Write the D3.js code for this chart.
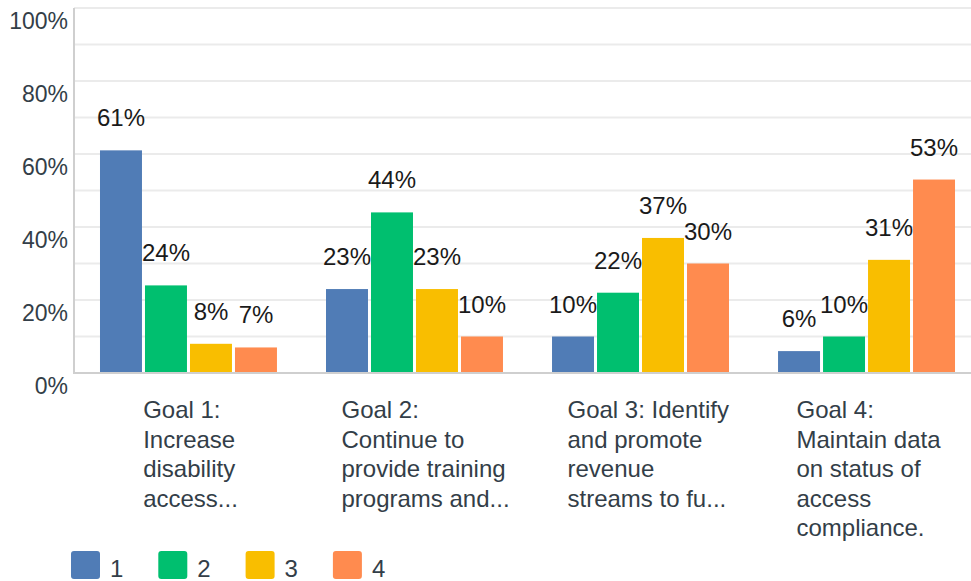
<!DOCTYPE html>
<html lang="en">
<head>
    <meta charset="UTF-8">
    <title>Goals</title>
    <script src="https://d3js.org/d3.v7.min.js"></script>
    <style>
        body {
            margin: 0;
            background: #fff;
        }
        svg text {
            font-family: "Liberation Sans", Arial, sans-serif;
        }
        .grid line {
            stroke: #ebebeb;
            stroke-width: 2px;
        }
        .tick-label {
            fill: #333e48;
            font-size: 23px;
        }
        .cat-label, .legend-label {
            fill: #333e48;
            font-size: 24px;
        }
        .value-label {
            fill: #1a1a1a;
            font-size: 24px;
        }
    </style>
</head>
<body>
<svg id="chart" width="971" height="581"></svg>
<script>
    // data
    let goals = ["g1", "g2", "g3", "g4"];
    let goalLines = [
        ["Goal 1:", "Increase", "disability", "access..."],
        ["Goal 2:", "Continue to", "provide training", "programs and..."],
        ["Goal 3: Identify", "and promote", "revenue", "streams to fu..."],
        ["Goal 4:", "Maintain data", "on status of", "access", "compliance."]
    ];
    let series = ["1", "2", "3", "4"];
    let values1 = [61, 23, 10, 6];
    let values2 = [24, 44, 22, 10];
    let values3 = [8, 23, 37, 31];
    let values4 = [7, 10, 30, 53];
    let yTicks = [0, 20, 40, 60, 80, 100];
    let colors = ["#507cb6", "#00bf6f", "#f9be00", "#ff8b4f"];

    let allValues = [values1, values2, values3, values4];

    let svg = d3.select("#chart");
    let plotLeft = 74, plotRight = 971, plotTop = 8, plotBottom = 373;

    let y = d3.scaleLinear().domain([0, 100]).range([plotBottom, plotTop]);
    // groups run a little past the right edge, as in the source
    let x0 = d3.scaleBand().domain(goals).range([plotLeft, 981])
        .paddingInner(0.217).paddingOuter(0.115);
    let x1 = d3.scaleBand().domain(series).range([0, x0.bandwidth()])
        .paddingInner(0.067);
    let color = d3.scaleOrdinal().domain(series).range(colors);

    // grid every 10%
    svg.append("g")
        .attr("class", "grid")
        .selectAll("line")
        .data(d3.range(10, 101, 10))
        .join("line")
        .attr("x1", plotLeft)
        .attr("x2", plotRight)
        .attr("y1", d => y(d))
        .attr("y2", d => y(d));

    // y labels
    svg.append("g")
        .selectAll("text")
        .data(yTicks)
        .join("text")
        .attr("class", "tick-label")
        .attr("x", 68)
        .attr("y", d => y(d) + 21)
        .attr("text-anchor", "end")
        .text(d => d + "%");

    // bars
    let rows = [];
    goals.forEach(function (g, gi) {
        series.forEach(function (s, si) {
            rows.push({goal: g, series: s, value: allValues[si][gi]});
        });
    });

    let bars = svg.append("g");
    bars.selectAll("rect")
        .data(rows)
        .join("rect")
        .attr("x", d => x0(d.goal) + x1(d.series))
        .attr("y", d => y(d.value))
        .attr("width", x1.bandwidth())
        .attr("height", d => y(0) - y(d.value))
        .attr("fill", d => color(d.series));

    bars.selectAll("text")
        .data(rows)
        .join("text")
        .attr("class", "value-label")
        .attr("x", d => x0(d.goal) + x1(d.series) + x1.bandwidth() / 2)
        .attr("y", d => y(d.value) - 24)
        .attr("text-anchor", "middle")
        .text(d => d.value + "%");

    // axis lines
    svg.append("line")
        .attr("x1", plotLeft).attr("x2", plotLeft)
        .attr("y1", plotTop).attr("y2", plotBottom + 1)
        .attr("stroke", "#cfcfcf").attr("stroke-width", 2);
    svg.append("line")
        .attr("x1", plotLeft - 1).attr("x2", plotRight)
        .attr("y1", plotBottom).attr("y2", plotBottom)
        .attr("stroke", "#cfcfcf").attr("stroke-width", 2);

    // category labels, block centred under the group
    goals.forEach(function (g, gi) {
        let t = svg.append("text")
            .attr("class", "cat-label")
            .attr("y", 418);
        t.selectAll("tspan")
            .data(goalLines[gi])
            .join("tspan")
            .attr("dy", (d, i) => i === 0 ? 0 : 29.5)
            .text(d => d);
        let widest = 0;
        t.selectAll("tspan").each(function () {
            widest = Math.max(widest, this.getComputedTextLength());
        });
        let cx = x0(g) + x0.bandwidth() / 2;
        let startX = cx - Math.min(widest, 150) / 2 + 2;
        t.selectAll("tspan").attr("x", startX);
    });

    // legend
    let legend = svg.append("g")
        .selectAll("g")
        .data(series)
        .join("g")
        .attr("transform", (d, i) => "translate(" + (71 + i * 87.3) + ",551)");
    legend.append("rect")
        .attr("width", 29)
        .attr("height", 28)
        .attr("rx", 3)
        .attr("fill", d => color(d));
    legend.append("text")
        .attr("class", "legend-label")
        .attr("x", 39)
        .attr("y", 26)
        .text(d => d);
</script>
</body>
</html>
